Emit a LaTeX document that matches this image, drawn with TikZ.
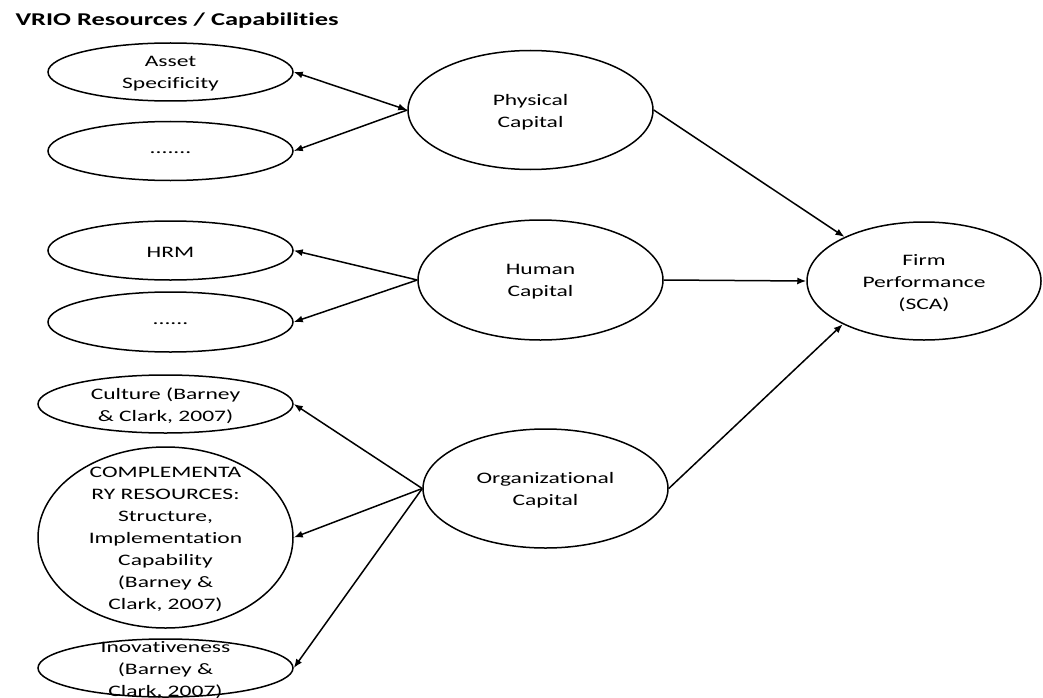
\documentclass[tikz,border=0pt]{standalone}
\usepackage{fontspec}
\setmainfont{Carlito}[FakeStretch=1.47, Ligatures=NoCommon]
\usetikzlibrary{arrows.meta,shapes.geometric}

\begin{document}
\begin{tikzpicture}[x=1pt, y=-1pt,
  every label/.style={font=\fontsize{16}{22}\selectfont, align=center, inner sep=0pt, yshift=-2pt},
  res/.style={ellipse, draw, line width=1.5pt, inner sep=0pt},
  link/.style={line width=1.5pt, -{Latex[length=9pt,width=7pt]}}]
\useasboundingbox (0,0) rectangle (1043,698);
\node[anchor=west, font=\fontsize{18}{22}\selectfont\bfseries] (title) at (12,21)
  {VRIO Resources / Capabilities};
% ---- left: resources
\node[res, minimum width=245, minimum height=58, label={center:Asset\\Specificity}] (asset) at (170.5,72) {};
\node[res, minimum width=245, minimum height=59, label={center:.......}] (dotsa) at (170.5,151) {};
\node[res, minimum width=245, minimum height=59, label={center:HRM}] (hrm) at (170.5,250.5) {};
\node[res, minimum width=245, minimum height=60, label={center:......}] (dotsb) at (170.5,322) {};
\node[res, minimum width=255, minimum height=58, label={center:Culture (Barney\\\& Clark, 2007)}] (culture) at (165.5,404) {};
\node[res, minimum width=255, minimum height=181,
  label={center:COMPLEMENTA\\RY RESOURCES:\\Structure,\\Implementation\\Capability\\(Barney \&\\Clark, 2007)}] (compl) at (165.5,537.5) {};
\node[res, minimum width=255, minimum height=58,
  label={center:Inovativeness\\(Barney \&\\Clark, 2007)}] (inov) at (165.5,668) {};
% ---- middle: capitals
\node[res, minimum width=245, minimum height=119, label={center:Physical\\Capital}] (phys) at (530.5,110) {};
\node[res, minimum width=245, minimum height=120, label={center:Human\\Capital}] (human) at (540.5,280) {};
\node[res, minimum width=245, minimum height=119, label={center:Organizational\\Capital}] (org) at (545.5,488.5) {};
% ---- right: outcome
\node[res, minimum width=234, minimum height=118, label={center:Firm\\Performance\\(SCA)}] (firm) at (924,281) {};
% ---- links
\draw[link, {Latex[length=9pt,width=7pt]}-{Latex[length=9pt,width=7pt]}] (asset.east) -- (phys.west);
\draw[link] (phys.west) -- (dotsa.east);
\draw[link] (human.west) -- (hrm.east);
\draw[link] (human.west) -- (dotsb.east);
\draw[link] (org.west) -- (culture.east);
\draw[link] (org.west) -- (compl.east);
\draw[link] (org.west) -- (inov.east);
\draw[link] (phys.east) -- (firm.151.5);
\draw[link] (human.east) -- (firm.west);
\draw[link] (org.east) -- (firm.208.5);
\end{tikzpicture}
\end{document}
